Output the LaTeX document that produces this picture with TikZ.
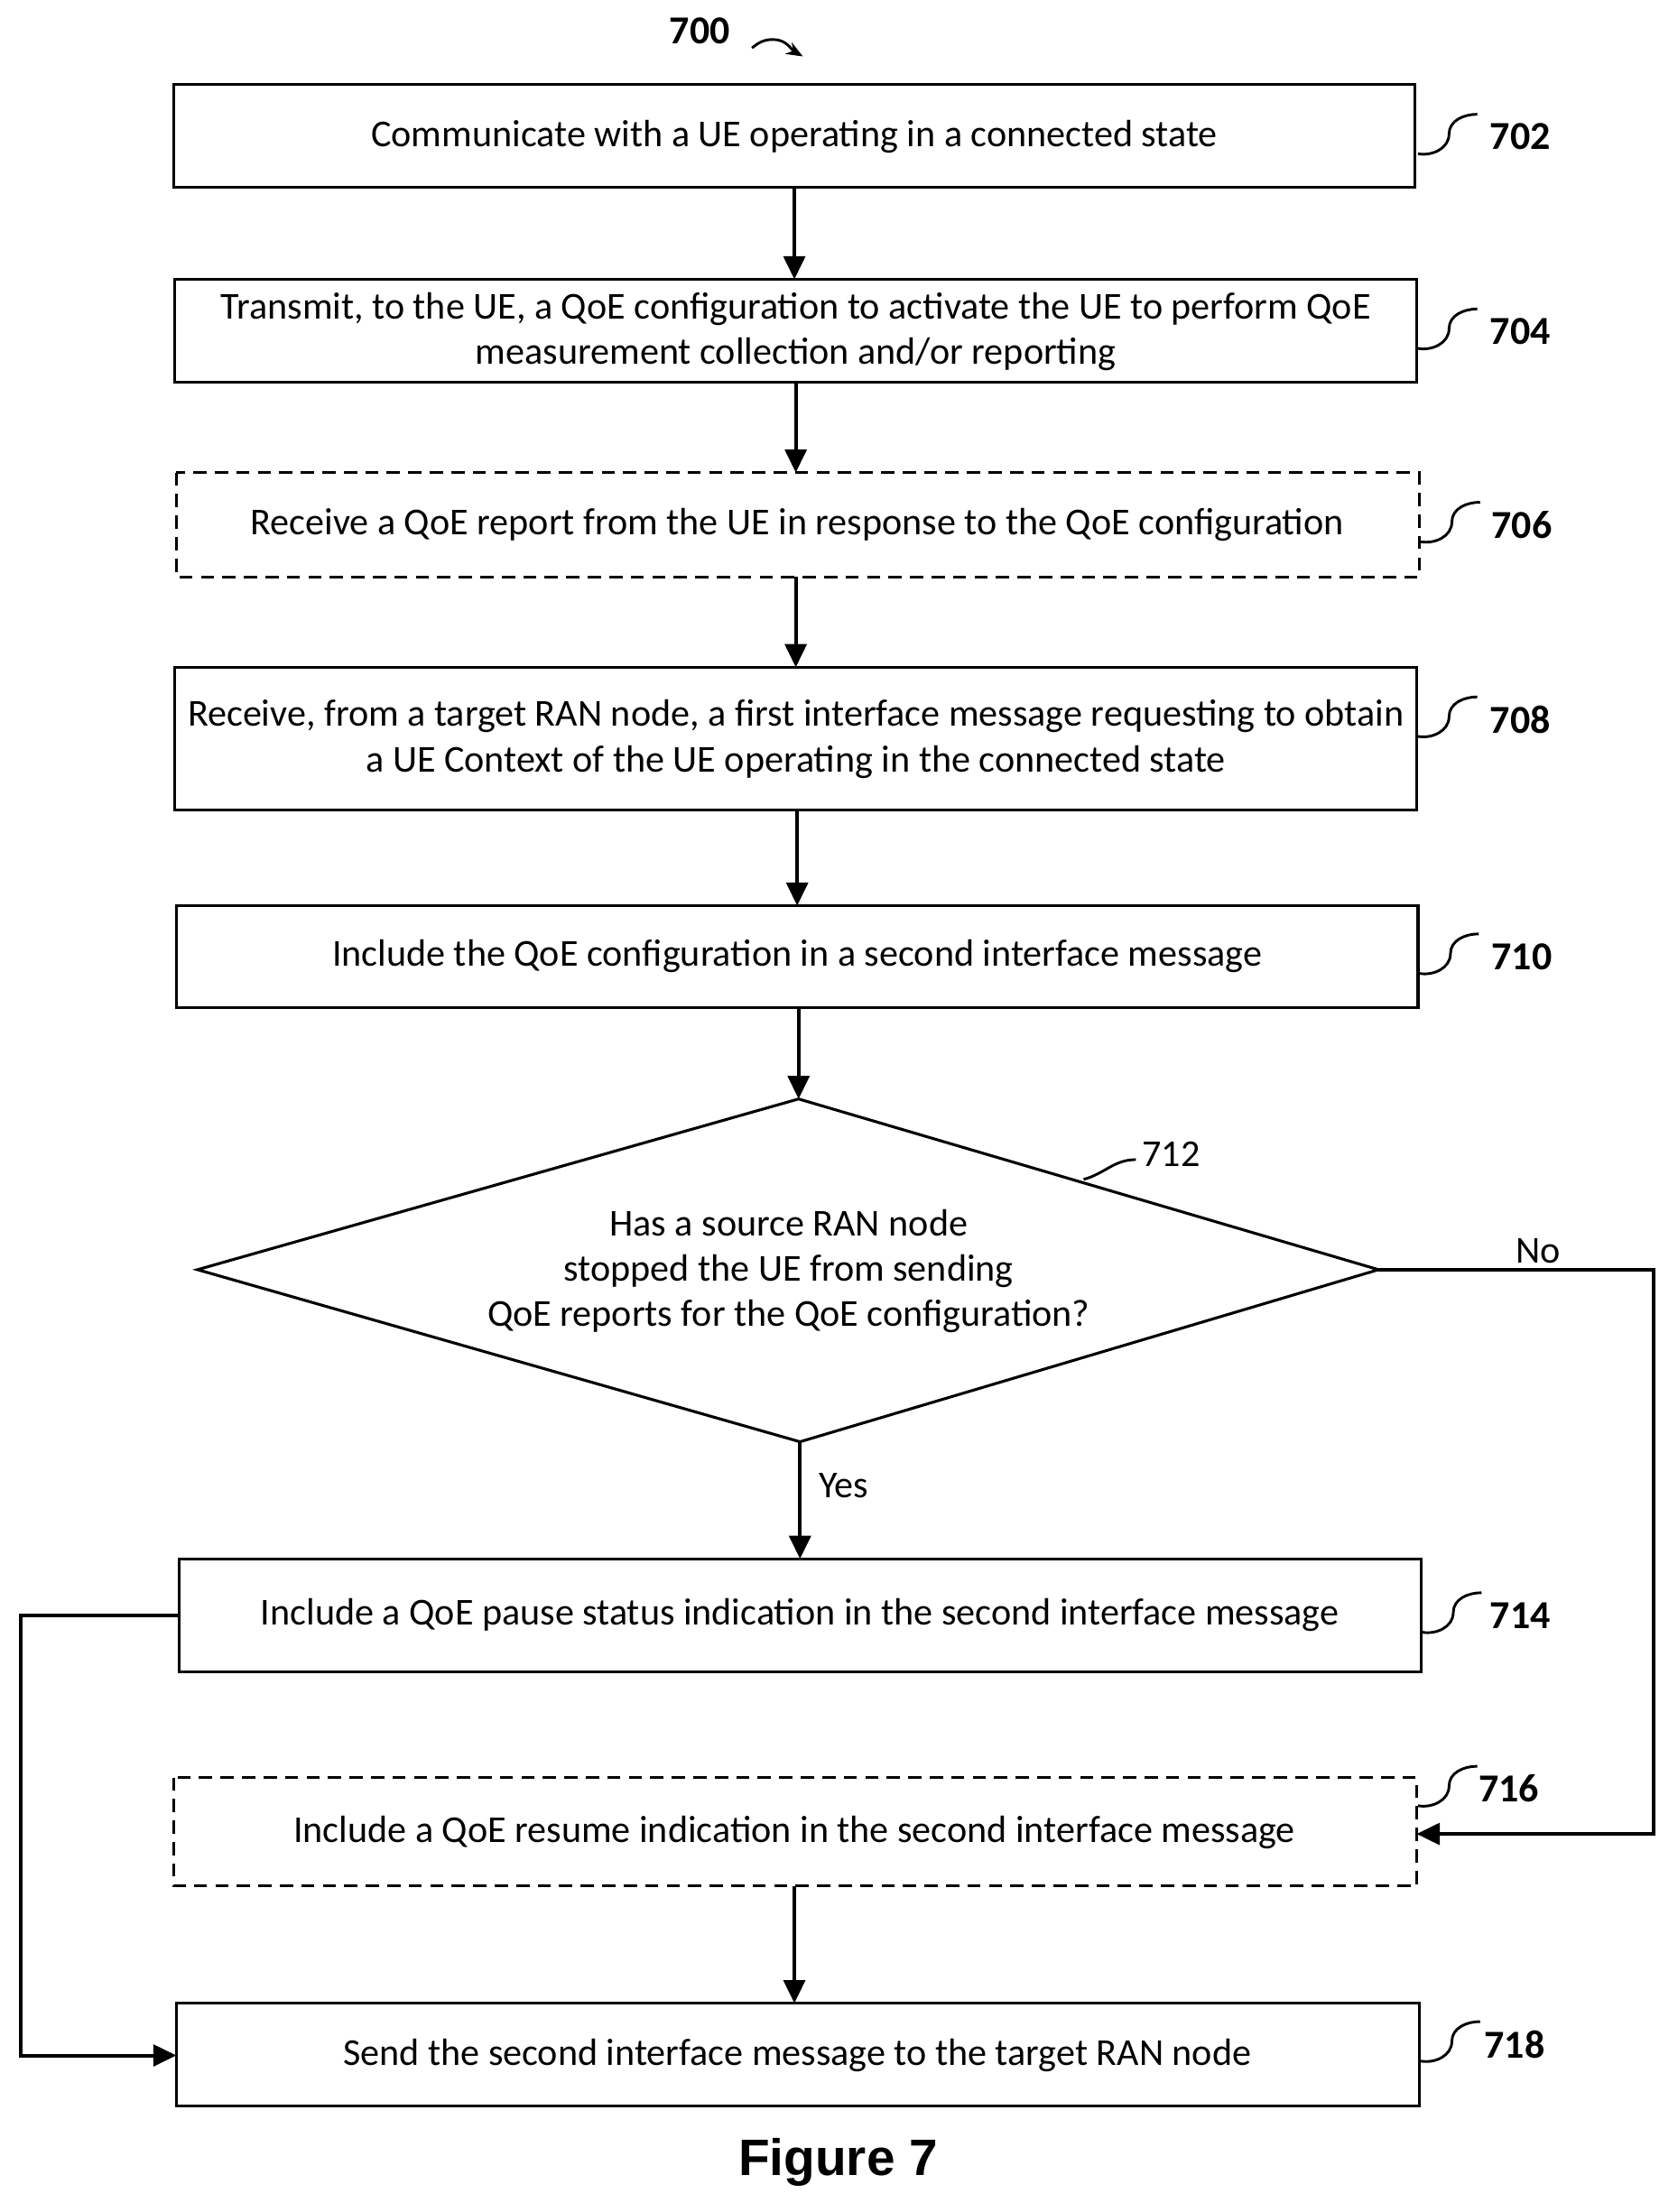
\documentclass[tikz,border=0pt]{standalone}
\usepackage{fontspec}
\setmainfont{Carlito}
\newfontfamily\figfont{Liberation Sans}
\usetikzlibrary{arrows.meta}
\begin{document}
\begin{tikzpicture}[x=0.03cm,y=-0.03cm,
  box/.style={draw,line width=1.7pt,inner sep=0pt},
  dsh/.style={dash pattern=on 8pt off 5pt},
  txt/.style={font=\fontsize{23}{27.5}\selectfont,align=center},
  lbl/.style={font=\fontsize{23}{27}\selectfont},
  num/.style={font=\fontsize{24}{28}\selectfont\bfseries},
  arr/.style={line width=2.2pt,-{Triangle[length=14pt,width=13pt]}},
  sq/.style={line width=1.6pt}]
\useasboundingbox (0,0) rectangle (1189,1568);
% boxes
\draw[box] (123,60) rectangle (1003,133);
\node[txt] (b702) at (563,97) {Communicate with a UE operating in a connected state};
\draw[box] (124,198) rectangle (1004,271);
\node[txt] (b704) at (564,235) {Transmit, to the UE, a QoE configuration to activate the UE to perform QoE\\measurement collection and/or reporting};
\draw[box,dsh] (125,335) rectangle (1006,409);
\node[txt] (b706) at (565,372) {Receive a QoE report from the UE in response to the QoE configuration};
\draw[box] (124,473) rectangle (1004,574);
\node[txt] (b708) at (564,524) {Receive, from a target RAN node, a first interface message requesting to obtain\\a UE Context of the UE operating in the connected state};
\draw[box] (125,642) rectangle (1005,714);
\node[txt] (b710) at (565,678) {Include the QoE configuration in a second interface message};
\draw[box] (140,900) -- (566,779) -- (977,900) -- (567,1022) -- cycle;
\node[txt] (d712) at (559,901) {Has a source RAN node\\stopped the UE from sending\\QoE reports for the QoE configuration?};
\draw[box] (127,1105) rectangle (1007,1185);
\node[txt] (b714) at (567,1145) {Include a QoE pause status indication in the second interface message};
\draw[box,dsh] (123,1260) rectangle (1004,1337);
\node[txt] (b716) at (563,1299) {Include a QoE resume indication in the second interface message};
\draw[box] (125,1420) rectangle (1006,1493);
\node[txt] (b718) at (565,1457) {Send the second interface message to the target RAN node};
% coordinates
\coordinate (c1) at (563,133); \coordinate (c2) at (563,198);
\coordinate (c3) at (564,271); \coordinate (c4) at (564,335);
\coordinate (c5) at (564,409); \coordinate (c6) at (564,473);
\coordinate (c7) at (565,574); \coordinate (c8) at (565,642);
\coordinate (c9) at (566,714); \coordinate (c10) at (566,779);
\coordinate (c11) at (567,1022); \coordinate (c12) at (567,1105);
\coordinate (c13) at (563,1337); \coordinate (c14) at (563,1420);
\coordinate (r) at (977,900); \coordinate (rin) at (1004,1300);
\coordinate (lout) at (127,1145); \coordinate (lin) at (125,1457);
\draw[arr] (c1) -- (c2);
\draw[arr] (c3) -- (c4);
\draw[arr] (c5) -- (c6);
\draw[arr] (c7) -- (c8);
\draw[arr] (c9) -- (c10);
\draw[arr] (c11) -- (c12);
\draw[arr] (c13) -- (c14);
\draw[arr] (r) -- (1172,900) -- (1172,1300) -- (rin);
\draw[arr] (lout) -- (15,1145) -- (15,1457) -- (lin);
\node[lbl] (no) at (1090,887) {No};
\node[lbl] (yes) at (598,1053) {Yes};
% ref labels
\foreach \n/\x/\y/\lx in {702/1005/97/1052,704/1005/235/1052,706/1007/372/1053,708/1005/510/1052,710/1006/678/1053,714/1008/1145/1052,716/1005/1268/1044,718/1007/1449/1048}{
  \draw[sq] (\x,\y+12) to[out=-10,in=-90] (\x+22,\y-2) to[out=90,in=180] (\x+42,\y-16);
  \node[num,anchor=west] (n\n) at (\lx,\y) {\n};
}
\draw[sq] (768,836) to[out=15,in=180] (805,822);
\node[lbl] (n712) at (830,818) {712};
\node[num] (n700) at (496,22) {700};
\draw[sq,-{Stealth[length=10pt,width=8pt]}] (533,34) to[out=40,in=180] (548,28) to[out=0,in=150] (569,40);
\node[font=\figfont\bfseries\fontsize{31}{36}\selectfont] (fig) at (594,1533) {Figure 7};
\end{tikzpicture}
\end{document}
